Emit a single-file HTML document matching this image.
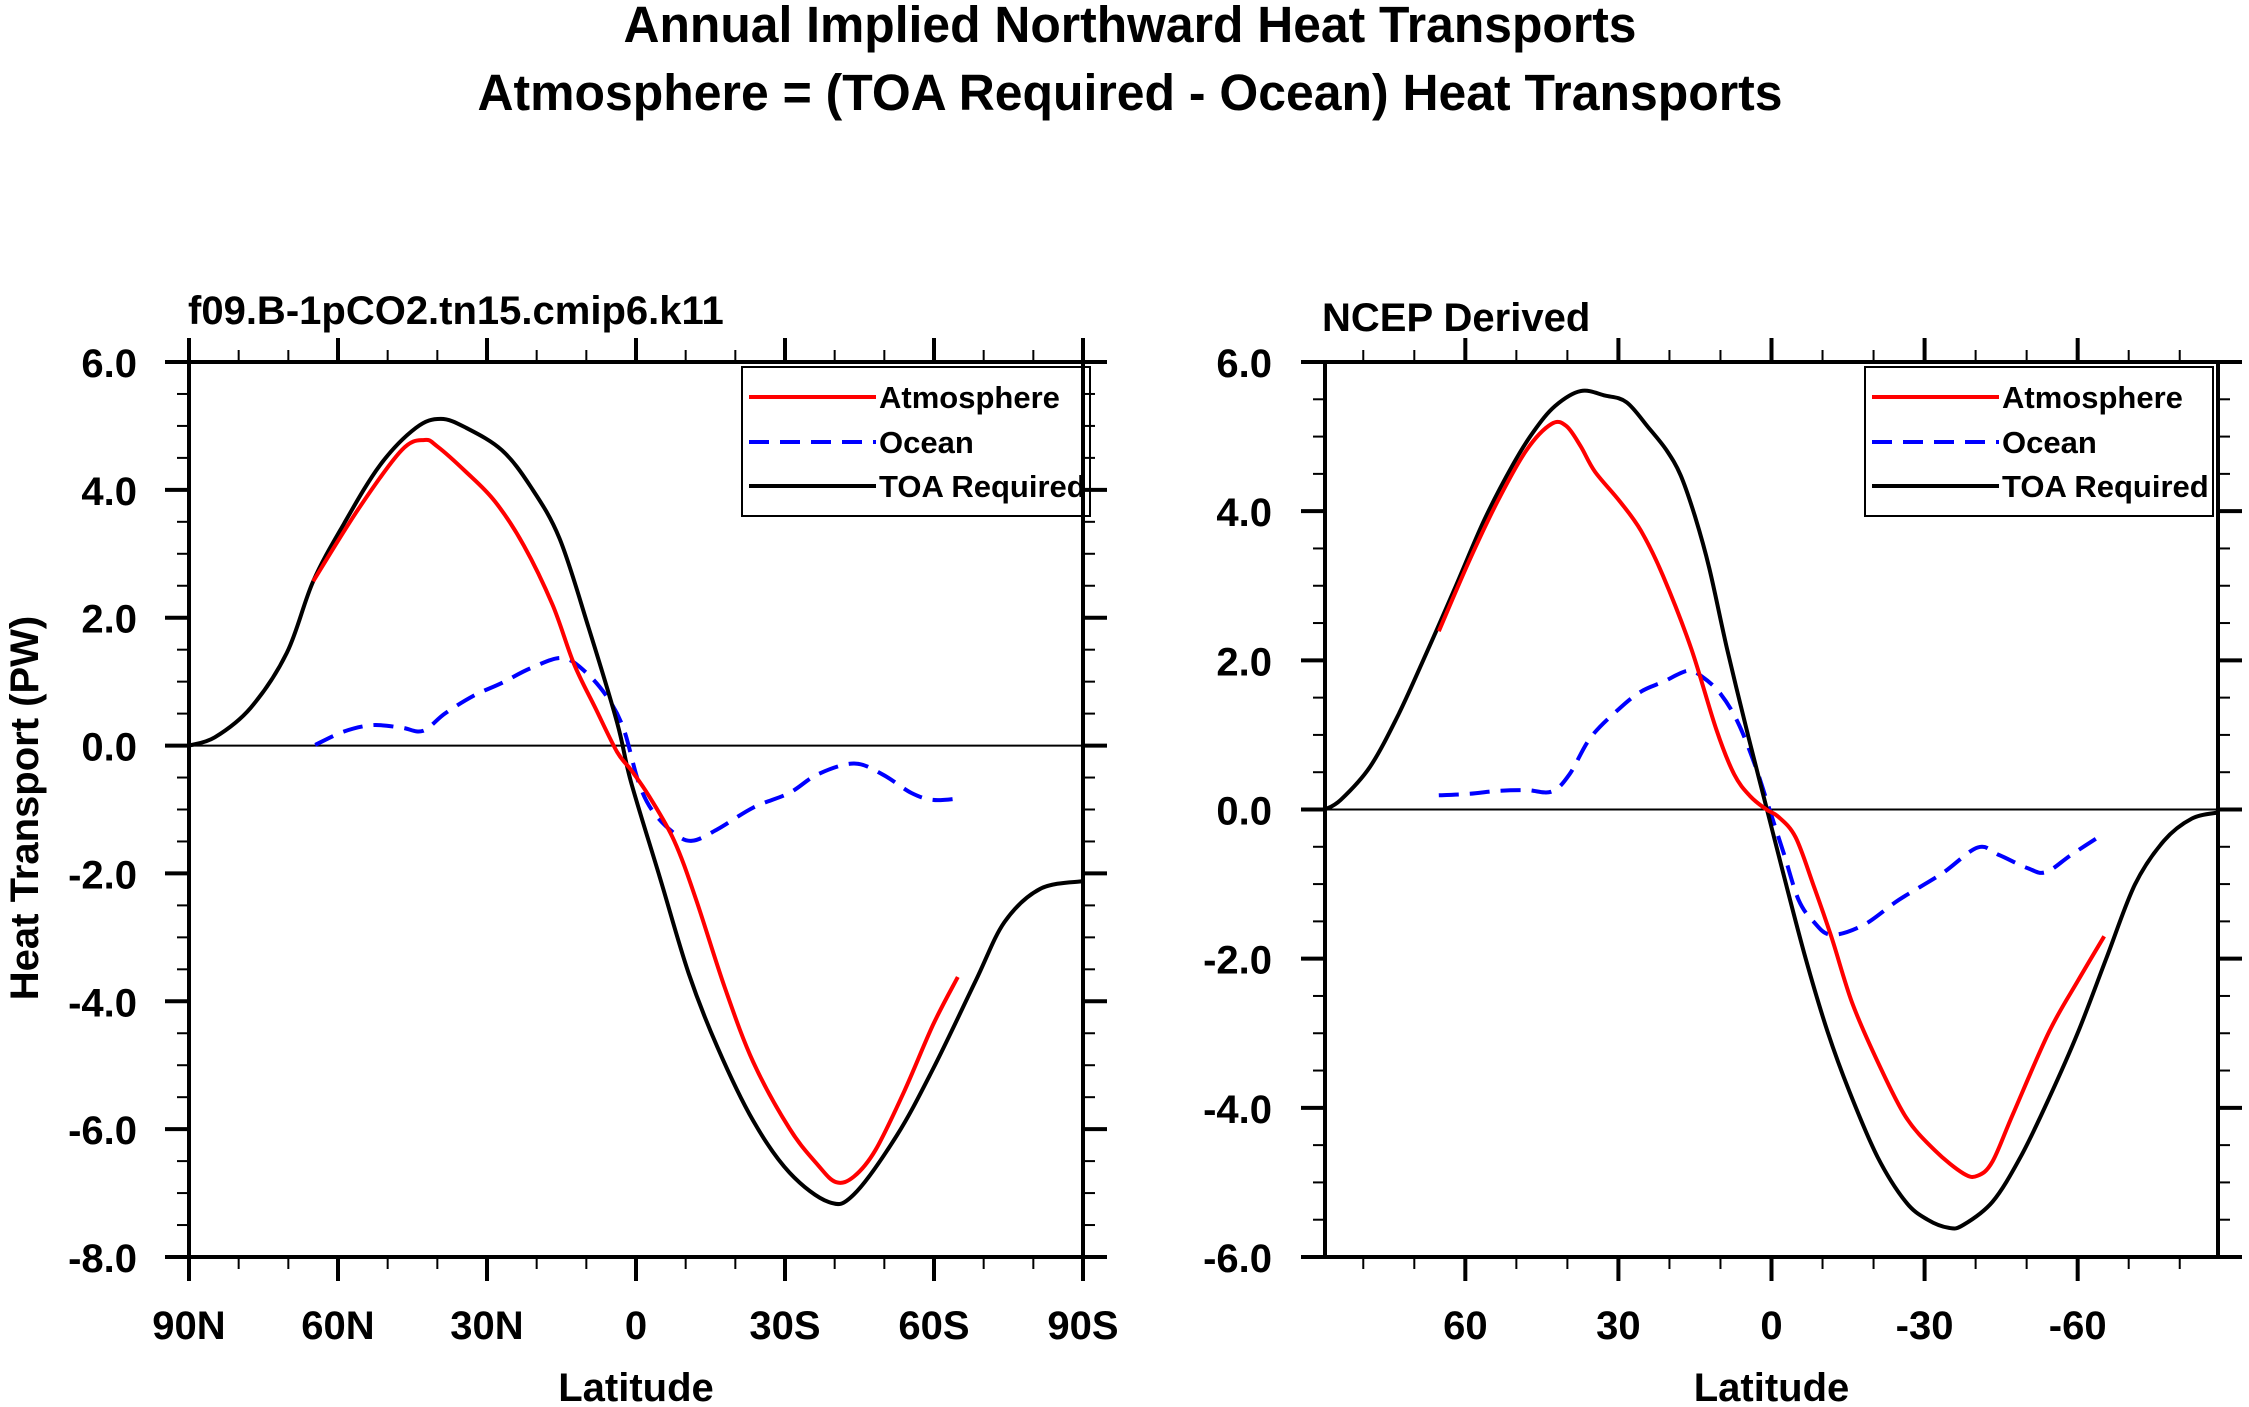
<!DOCTYPE html>
<html><head><meta charset="utf-8"><title>Annual Implied Northward Heat Transports</title>
<style>html,body{margin:0;padding:0;background:#fff}svg{display:block}text{font-family:"Liberation Sans",Arial,sans-serif;font-weight:bold;fill:#000}</style>
</head><body>
<svg id="chart" xmlns="http://www.w3.org/2000/svg" width="2249" height="1407" viewBox="0 0 2249 1407">
<rect width="2249" height="1407" fill="#fff"/>
<text x="1130" y="42" font-size="51" text-anchor="middle" textLength="1013" lengthAdjust="spacingAndGlyphs">Annual Implied Northward Heat Transports</text>
<text x="1130" y="110" font-size="51" text-anchor="middle" textLength="1305" lengthAdjust="spacingAndGlyphs">Atmosphere = (TOA Required - Ocean) Heat Transports</text>
<g id="p1"></g>
<g id="p2"></g>
</svg>
<script>
// Left panel data (latitude, PW)
const leftToaLat=[90,84.8,77.6,70.3,65,58.8,51.5,44.3,39.3,34.2,27,21.2,15.4,9.6,3.8,1.0,-4.8,-10.6,-16.4,-23.6,-30.9,-38.8,-43.9,-52.5,-59.8,-68.4,-74.2,-81.4,-90];
const leftToaVal=[0,0.13,0.59,1.45,2.57,3.47,4.39,4.97,5.11,4.97,4.62,4.05,3.24,1.86,0.36,-0.57,-2.06,-3.56,-4.72,-5.87,-6.68,-7.14,-7.02,-6.1,-5.06,-3.68,-2.76,-2.24,-2.12];
const leftAtmLat=[65,55.9,47.2,42.6,40,34.2,28.4,22.6,16.8,12.5,8.2,3.8,0.9,-2.7,-7.7,-12.1,-17.9,-23.6,-30.9,-36.6,-40.3,-43.9,-48.2,-54,-59.8,-64.8];
const leftAtmVal=[2.57,3.70,4.62,4.78,4.68,4.28,3.82,3.13,2.2,1.28,0.59,-0.1,-0.39,-0.80,-1.49,-2.41,-3.79,-4.95,-5.99,-6.56,-6.83,-6.74,-6.33,-5.41,-4.37,-3.62];
const leftOcnLat=[64.6,58.8,53,47.2,42.9,38.5,32.7,27,21.2,14.7,9.6,5.3,2.4,-0.5,-3.4,-7.7,-11.3,-16.4,-23.6,-30.9,-36.6,-43.9,-49.6,-55.4,-59.8,-64.8];
const leftOcnVal=[0.01,0.22,0.32,0.28,0.23,0.5,0.78,0.98,1.21,1.37,1.11,0.7,0.24,-0.57,-1.03,-1.37,-1.49,-1.31,-0.97,-0.74,-0.45,-0.28,-0.45,-0.74,-0.85,-0.83];
// Right panel data
const rightToaLat=[87.5,84.4,78.7,73.2,67.6,61.9,56.3,50.7,46.6,42.4,37.4,32.6,28.4,24.1,20.6,17.8,15.0,12.2,8.7,4.5,1.0,-2.5,-6.7,-11.0,-15.2,-20.8,-26.3,-30.6,-34.8,-37.6,-43.3,-48.8,-54.4,-60.1,-65.6,-71.2,-76.9,-82.4,-87.5];
const rightToaVal=[0,0.13,0.57,1.26,2.1,2.99,3.88,4.62,5.07,5.41,5.61,5.55,5.46,5.12,4.82,4.48,3.93,3.24,2.15,0.97,0.03,-0.91,-2.0,-2.98,-3.77,-4.66,-5.26,-5.5,-5.61,-5.57,-5.26,-4.66,-3.87,-2.98,-2.0,-1.01,-0.42,-0.12,-0.04];
const rightAtmLat=[65.2,59.2,53.7,48.0,43.1,40.2,37.4,34.6,29.7,25.6,21.3,15.7,10.8,7.3,4.2,1.0,-1.4,-4.7,-8.2,-11.7,-15.8,-20.8,-26.3,-32.0,-37.6,-40.4,-43.3,-47.4,-54.4,-60.1,-65.2];
const rightAtmVal=[2.39,3.34,4.13,4.82,5.17,5.14,4.87,4.53,4.13,3.74,3.14,2.15,1.07,0.47,0.18,0,-0.1,-0.37,-1.01,-1.7,-2.59,-3.38,-4.12,-4.57,-4.88,-4.91,-4.72,-4.07,-2.98,-2.29,-1.7];
const rightOcnLat=[65.2,59.2,53.7,48.0,43.1,39.6,35.4,29.7,25.6,21.3,16.4,13.6,10.1,6.6,3.1,0.3,-2.5,-5.3,-8.2,-11.7,-18.0,-25.0,-33.4,-40.4,-44.6,-50.3,-53.8,-58.7,-65.2];
const rightOcnVal=[0.19,0.21,0.25,0.26,0.24,0.47,0.97,1.36,1.58,1.71,1.86,1.78,1.56,1.17,0.57,-0.02,-0.61,-1.21,-1.5,-1.68,-1.55,-1.21,-0.86,-0.51,-0.61,-0.79,-0.84,-0.61,-0.32];
const leftXTicks=[90,60,30,0,-30,-60,-90];
const leftXLabels=["90N","60N","30N","0","30S","60S","90S"];
const rightXTicks=[60,30,0,-30,-60];
const rightXLabels=["60","30","0","-30","-60"];
const leftYTicks=[6,4,2,0,-2,-4,-6,-8];
const rightYTicks=[6,4,2,0,-2,-4,-6];

const NS="http://www.w3.org/2000/svg";
function mk(parent,tag,attrs){const e=document.createElementNS(NS,tag);for(const k in attrs)e.setAttribute(k,attrs[k]);parent.appendChild(e);return e;}

function smoothPath(pts){
  let d='M'+pts[0][0].toFixed(1)+' '+pts[0][1].toFixed(1);
  for(let i=0;i<pts.length-1;i++){
    const p0=pts[Math.max(0,i-1)],p1=pts[i],p2=pts[i+1],p3=pts[Math.min(pts.length-1,i+2)];
    const c1x=p1[0]+(p2[0]-p0[0])/6,c1y=p1[1]+(p2[1]-p0[1])/6;
    const c2x=p2[0]-(p3[0]-p1[0])/6,c2y=p2[1]-(p3[1]-p1[1])/6;
    d+=' C'+c1x.toFixed(1)+' '+c1y.toFixed(1)+' '+c2x.toFixed(1)+' '+c2y.toFixed(1)+' '+p2[0].toFixed(1)+' '+p2[1].toFixed(1);
  }
  return d;
}

function panel(g,o){
  const X0=o.x0,X1=o.x1,Y0=362,Y1=1257,L=o.latMax;
  const sx=lat=>X0+(L-lat)/(2*L)*(X1-X0);
  const sy=v=>Y0+(o.ymax-v)/(o.ymax-o.ymin)*(Y1-Y0);
  for(let lat=80;lat>=-80;lat-=10){
    const x=sx(lat);
    let t=mk(g,'line',{x1:x,x2:x,y1:Y1,y2:Y1+12,stroke:'#000','stroke-width':2});
    
    t=mk(g,'line',{x1:x,x2:x,y1:Y0,y2:Y0-12,stroke:'#000','stroke-width':2});
    
  }
  o.xticks.forEach((lat,i)=>{
    const x=sx(lat);
    let t=mk(g,'line',{x1:x,x2:x,y1:Y1,y2:Y1+24,stroke:'#000','stroke-width':4});
    
    t=mk(g,'line',{x1:x,x2:x,y1:Y0,y2:Y0-24,stroke:'#000','stroke-width':4});
    
    const tx=mk(g,'text',{x:x,y:1339,'font-size':40,'text-anchor':'middle'});
    tx.textContent=o.xlabels[i];
    
  });
  for(let v=o.ymax;v>=o.ymin-0.001;v-=0.5){
    if(Math.abs(v/2-Math.round(v/2))<0.01) continue;
    const y=sy(v);
    let t=mk(g,'line',{x1:X0-12,x2:X0,y1:y,y2:y,stroke:'#000','stroke-width':2});
    
    t=mk(g,'line',{x1:X1,x2:X1+12,y1:y,y2:y,stroke:'#000','stroke-width':2});
    
  }
  o.yticks.forEach(v=>{
    const y=sy(v);
    let t=mk(g,'line',{x1:X0-24,x2:X0,y1:y,y2:y,stroke:'#000','stroke-width':4});
    
    t=mk(g,'line',{x1:X1,x2:X1+24,y1:y,y2:y,stroke:'#000','stroke-width':4});
    
    const tx=mk(g,'text',{x:o.ylabx,y:y+15,'font-size':40,'text-anchor':'end'});
    tx.textContent=v.toFixed(1);
    
  });
  const z=mk(g,'line',{x1:X0,x2:X1,y1:sy(0),y2:sy(0),stroke:'#000','stroke-width':2});
  
  function series(lats,vals,color,dash,name){
    const pts=lats.map((l,i)=>[sx(l),sy(vals[i])]);
    const p=mk(g,'path',{d:smoothPath(pts),fill:'none',stroke:color,'stroke-width':4,'stroke-linejoin':'round'});
    if(dash)p.setAttribute('stroke-dasharray',dash);
    
  }
  series(o.ocnLat,o.ocnVal,'#0000ff','20 11','ocean-line');
  series(o.toaLat,o.toaVal,'#000','', 'toa-required-line');
  series(o.atmLat,o.atmVal,'#ff0000','', 'atmosphere-line');
  const fr=mk(g,'rect',{x:X0,y:Y0,width:X1-X0,height:Y1-Y0,fill:'none',stroke:'#000','stroke-width':4});
  
  const st=mk(g,'text',{x:o.subx,y:o.suby,'font-size':40});
  st.textContent=o.sub;
  const xl=mk(g,'text',{x:(X0+X1)/2,y:1401,'font-size':40,'text-anchor':'middle'});
  xl.textContent='Latitude';
  const lg=mk(g,'g',{});
  
  const lb=mk(lg,'rect',{x:o.lgx,y:367,width:348,height:149,fill:'none',stroke:'#000','stroke-width':2});
  
  [['Atmosphere','#ff0000','',397],['Ocean','#0000ff','20 11',442],['TOA Required','#000','',486]].forEach(e=>{
    const ln=mk(lg,'line',{x1:o.lgx+7,x2:o.lgx+134,y1:e[3],y2:e[3],stroke:e[1],'stroke-width':4});
    if(e[2])ln.setAttribute('stroke-dasharray',e[2]);
    
    const t=mk(lg,'text',{x:o.lgx+137,y:e[3]+11,'font-size':31});
    t.textContent=e[0];
  });
}
panel(document.getElementById('p1'),{x0:189,x1:1083,latMax:90,ymax:6,ymin:-8,xticks:leftXTicks,xlabels:leftXLabels,yticks:leftYTicks,ylabx:137,
  toaLat:leftToaLat,toaVal:leftToaVal,atmLat:leftAtmLat,atmVal:leftAtmVal,ocnLat:leftOcnLat,ocnVal:leftOcnVal,
  sub:'f09.B-1pCO2.tn15.cmip6.k11',subx:188,suby:324,lgx:742});
panel(document.getElementById('p2'),{x0:1325,x1:2218,latMax:87.5,ymax:6,ymin:-6,xticks:rightXTicks,xlabels:rightXLabels,yticks:rightYTicks,ylabx:1272,
  toaLat:rightToaLat,toaVal:rightToaVal,atmLat:rightAtmLat,atmVal:rightAtmVal,ocnLat:rightOcnLat,ocnVal:rightOcnVal,
  sub:'NCEP Derived',subx:1322,suby:331,lgx:1865});
const yt=mk(document.getElementById('chart'),'text',{x:0,y:0,'font-size':40,'text-anchor':'middle',transform:'translate(38,808) rotate(-90)'});
yt.textContent='Heat Transport (PW)';


</script>
</body></html>
